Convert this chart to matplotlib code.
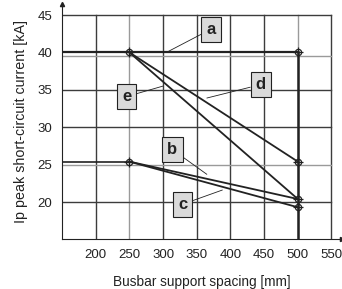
import matplotlib.pyplot as plt
import numpy as np

plt.rcParams.update({
    'font.family': ['Liberation Sans', 'DejaVu Sans'],
    'font.size': 9,
})

# support spacing [mm] and peak short-circuit current [kA]
spacing = [250, 500]
curve_a = [40.0, 40.0]
curve_d = [40.0, 25.4]
curve_e = [40.0, 20.4]
curve_b = [25.4, 20.4]
curve_c = [25.4, 19.3]
flat_low = 25.4

x_ticks = [200, 250, 300, 350, 400, 450, 500, 550]
y_ticks = [20, 25, 30, 35, 40, 45]
grid_light_x = [250, 500]
grid_light_y = [25, 40]

# label text, box centre (mm, kA), leader end (mm, kA)
labels = [
    ('a', (371, 43.1), (305, 40.0)),
    ('d', (445, 35.7), (365, 33.9)),
    ('e', (246, 34.1), (300, 35.5)),
    ('b', (314, 27.0), (365, 23.7)),
    ('c', (329, 19.7), (388, 21.6)),
]

dark = '#222222'
light = '#9a9a9a'

fig = plt.figure(figsize=(3.42, 2.89), dpi=100)
ax = fig.add_axes([0.1813, 0.1716, 0.8175, 0.8153])
ax.set_xlim(150, 565)
ax.set_ylim(15, 46.5)

# grid, limited to the chart frame
for xv in x_ticks:
    c = light if xv in grid_light_x else '#3c3c3c'
    ax.plot([xv, xv], [15, 45], color=c, lw=1.0, zorder=1)
for yv in y_ticks:
    c = light if yv in grid_light_y else '#3c3c3c'
    off = -0.5 if yv == 40 else 0
    ax.plot([150, 550], [yv + off, yv + off], color=c, lw=1.0, zorder=1)

# curves
ax.plot([150, 500], curve_a, color=dark, lw=1.6, zorder=3)
ax.plot([500, 500], [15, curve_a[1]], color=dark, lw=1.8, zorder=3)
ax.plot([150, 250], [flat_low, flat_low], color=dark, lw=1.2, zorder=3)
for ys in (curve_d, curve_e, curve_b, curve_c):
    ax.plot(spacing, ys, color=dark, lw=1.3, zorder=3)

pts_x = [250, 250, 500, 500, 500, 500]
pts_y = [curve_a[0], curve_b[0], curve_a[1], curve_d[1], curve_b[1], curve_c[1]]
ax.plot(pts_x, pts_y, ls='none', marker='o', ms=4.5, mfc='none', mec=dark, mew=0.9, zorder=4)
ax.plot(pts_x, pts_y, ls='none', marker='+', ms=7, mec=dark, mew=0.9, zorder=4)

for txt, pos, end in labels:
    ax.annotate(txt, xy=end, xytext=pos, ha='center', va='center',
                fontsize=12, fontweight='bold', color=dark,
                bbox=dict(boxstyle='square,pad=0.3', fc='#dadada', ec=dark, lw=0.8),
                arrowprops=dict(arrowstyle='-', color=dark, lw=0.6, shrinkA=0, shrinkB=0),
                zorder=5)

# axes with arrows
for s in ['top', 'right']:
    ax.spines[s].set_visible(False)
ax.spines['left'].set_bounds(15, 46.5)
ax.spines['bottom'].set_bounds(150, 565)
ax.spines['left'].set_color(dark)
ax.spines['bottom'].set_color(dark)
ax.plot(1, 0, '>', color=dark, ms=3, transform=ax.transAxes, clip_on=False)
ax.plot(0, 1, '^', color=dark, ms=3, transform=ax.transAxes, clip_on=False)

ax.set_xticks(x_ticks)
ax.set_yticks(y_ticks)
ax.tick_params(length=0, pad=7, colors=dark, labelsize=9.5)
ax.set_xlabel('Busbar support spacing [mm]', fontsize=9.8, color=dark, labelpad=10)
ax.set_ylabel('Ip peak short-circuit current [kA]', fontsize=10.3, color=dark, labelpad=7)

fig.savefig('out.png', dpi=100)
